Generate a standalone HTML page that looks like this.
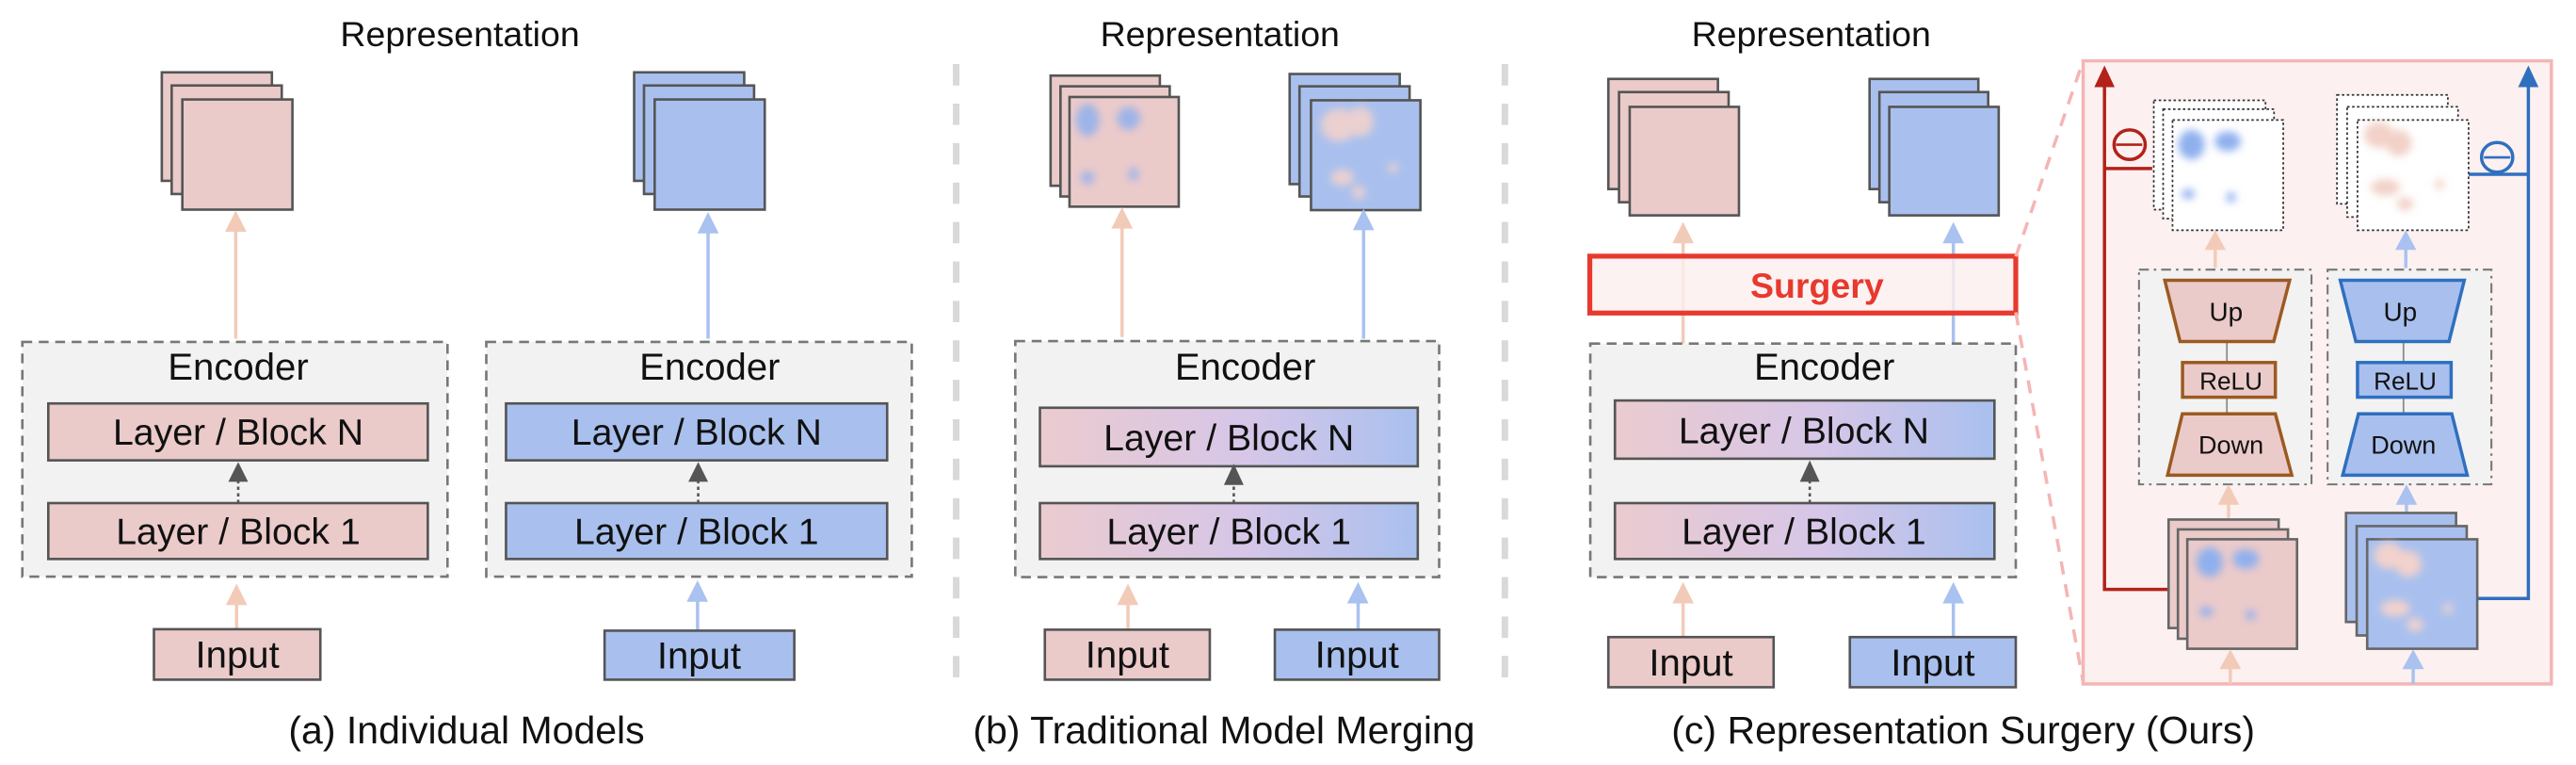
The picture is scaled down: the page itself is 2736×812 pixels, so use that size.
<!DOCTYPE html>
<html><head><meta charset="utf-8"><style>
html,body{margin:0;padding:0;background:#fff;}
svg{display:block;}
text{font-family:"Liberation Sans",Arial,sans-serif;fill:#111;}
</style></head><body>
<svg width="2736" height="812" viewBox="0 0 1568 465.3" preserveAspectRatio="none" xmlns="http://www.w3.org/2000/svg">
<defs>
<linearGradient id="mg" x1="0" x2="1" y1="0" y2="0">
<stop offset="0" stop-color="#ebcbcf"/><stop offset="0.55" stop-color="#d6c6e8"/><stop offset="1" stop-color="#a9c0ee"/></linearGradient>
<filter id="bl" x="-50%" y="-50%" width="200%" height="200%"><feGaussianBlur stdDeviation="2.5"/></filter>
</defs>

<line x1="582" y1="39" x2="582" y2="419" stroke="#d9d9d9" stroke-width="4" stroke-dasharray="13 11"/>
<line x1="916" y1="39" x2="916" y2="419" stroke="#d9d9d9" stroke-width="4" stroke-dasharray="13 11"/>

<!-- ========== Panel A ========== -->
<text x="280" y="28" font-size="21.5" text-anchor="middle">Representation</text>
<g stroke="#555" stroke-width="1.5" fill="#ebcaca">
<rect x="98.5" y="44" width="67" height="66"/><rect x="104.5" y="52" width="67" height="66"/><rect x="111" y="60.5" width="67" height="67"/>
</g>
<g stroke="#555" stroke-width="1.5" fill="#a9c0ee">
<rect x="386" y="44" width="67" height="66"/><rect x="392" y="52" width="67" height="66"/><rect x="398.5" y="60.5" width="67" height="67"/>
</g>
<line x1="143.5" y1="206" x2="143.5" y2="138" stroke="#f2cbb8" stroke-width="2"/>
<polygon points="143.5,128 137,141 150,141" fill="#f2cbb8"/>
<line x1="431" y1="206" x2="431" y2="139" stroke="#a9c2ef" stroke-width="2"/>
<polygon points="431,129 424.5,142 437.5,142" fill="#a9c2ef"/>

<rect x="13.6" y="208" width="258.8" height="142.7" fill="#f2f2f2" stroke="#777" stroke-width="1.5" stroke-dasharray="6 4"/>
<text x="145" y="231" font-size="23" text-anchor="middle">Encoder</text>
<rect x="29.4" y="245.4" width="231" height="34.6" fill="#ebcaca" stroke="#555" stroke-width="1.5"/>
<text x="145" y="270.5" font-size="22.5" text-anchor="middle">Layer / Block N</text>
<rect x="29.4" y="306" width="231" height="34" fill="#ebcaca" stroke="#555" stroke-width="1.5"/>
<text x="145" y="331" font-size="22.5" text-anchor="middle">Layer / Block 1</text>
<line x1="145" y1="306" x2="145" y2="292" stroke="#555" stroke-width="1.5" stroke-dasharray="2 2"/>
<polygon points="145,281 139,293 151,293" fill="#555"/>

<rect x="296" y="208" width="259" height="142.7" fill="#f2f2f2" stroke="#777" stroke-width="1.5" stroke-dasharray="6 4"/>
<text x="432" y="231" font-size="23" text-anchor="middle">Encoder</text>
<rect x="308" y="245.4" width="232" height="34.6" fill="#a9c0ee" stroke="#555" stroke-width="1.5"/>
<text x="424" y="270.5" font-size="22.5" text-anchor="middle">Layer / Block N</text>
<rect x="308" y="306" width="232" height="34" fill="#a9c0ee" stroke="#555" stroke-width="1.5"/>
<text x="424" y="331" font-size="22.5" text-anchor="middle">Layer / Block 1</text>
<line x1="425" y1="306" x2="425" y2="292" stroke="#555" stroke-width="1.5" stroke-dasharray="2 2"/>
<polygon points="425,281 419,293 431,293" fill="#555"/>

<line x1="144" y1="383" x2="144" y2="365" stroke="#f2cbb8" stroke-width="2"/>
<polygon points="144,355 137.5,368 150.5,368" fill="#f2cbb8"/>
<line x1="424.6" y1="383" x2="424.6" y2="365" stroke="#a9c2ef" stroke-width="2"/>
<polygon points="424.6,353 418,366 431,366" fill="#a9c2ef"/>
<rect x="93.7" y="382.7" width="101.3" height="30.7" fill="#ebcaca" stroke="#555" stroke-width="1.5"/>
<text x="144.5" y="406" font-size="23" text-anchor="middle">Input</text>
<rect x="368" y="383.6" width="115.5" height="29.8" fill="#a9c0ee" stroke="#555" stroke-width="1.5"/>
<text x="425.5" y="406.5" font-size="23" text-anchor="middle">Input</text>
<text x="284" y="452" font-size="23.5" text-anchor="middle">(a) Individual Models</text>

<!-- ========== Panel B ========== -->
<text x="742.6" y="28" font-size="21.5" text-anchor="middle">Representation</text>
<g stroke="#555" stroke-width="1.5" fill="#ebcaca">
<rect x="639.5" y="46" width="66.5" height="67"/><rect x="645.5" y="52.5" width="66.5" height="67"/><rect x="651" y="59" width="66.5" height="66.7"/>
</g>
<g filter="url(#bl)" fill="#8fb0ee" opacity="0.85">
<ellipse cx="662" cy="73" rx="7" ry="10"/><ellipse cx="687" cy="72" rx="7" ry="7"/><ellipse cx="662" cy="108" rx="4" ry="4"/><ellipse cx="690" cy="106" rx="3" ry="4"/>
</g>
<g stroke="#555" stroke-width="1.5" fill="#a9c0ee">
<rect x="785" y="45" width="67" height="67"/><rect x="791" y="52.5" width="67" height="67"/><rect x="798" y="61" width="66.6" height="66.8"/>
</g>
<g filter="url(#bl)" fill="#f2d2cc" opacity="0.9">
<ellipse cx="815" cy="76" rx="11" ry="10"/><ellipse cx="828" cy="74" rx="8" ry="9"/><ellipse cx="817" cy="108" rx="7" ry="5"/><ellipse cx="827" cy="117" rx="4" ry="4"/><ellipse cx="848" cy="102" rx="3" ry="3"/>
</g>
<line x1="683" y1="205" x2="683" y2="136" stroke="#f2cbb8" stroke-width="2"/>
<polygon points="683,126 676.5,139 689.5,139" fill="#f2cbb8"/>
<line x1="830" y1="206" x2="830" y2="137" stroke="#a9c2ef" stroke-width="2"/>
<polygon points="830,127 823.5,140 836.5,140" fill="#a9c2ef"/>

<rect x="618" y="207.5" width="258" height="143.5" fill="#f2f2f2" stroke="#777" stroke-width="1.5" stroke-dasharray="6 4"/>
<text x="758" y="231" font-size="23" text-anchor="middle">Encoder</text>
<rect x="633" y="248" width="230" height="35.6" fill="url(#mg)" stroke="#555" stroke-width="1.5"/>
<text x="748" y="274" font-size="22.5" text-anchor="middle">Layer / Block N</text>
<rect x="633" y="306" width="230" height="34" fill="url(#mg)" stroke="#555" stroke-width="1.5"/>
<text x="748" y="331" font-size="22.5" text-anchor="middle">Layer / Block 1</text>
<line x1="751" y1="306" x2="751" y2="294" stroke="#555" stroke-width="1.5" stroke-dasharray="2 2"/>
<polygon points="751,282 745,295 757,295" fill="#555"/>

<line x1="686.6" y1="383" x2="686.6" y2="365" stroke="#f2cbb8" stroke-width="2"/>
<polygon points="686.6,355 680,368 693,368" fill="#f2cbb8"/>
<line x1="826.7" y1="383" x2="826.7" y2="365" stroke="#a9c2ef" stroke-width="2"/>
<polygon points="826.7,354 820,367 833,367" fill="#a9c2ef"/>
<rect x="636" y="383" width="100.4" height="30.4" fill="#ebcaca" stroke="#555" stroke-width="1.5"/>
<text x="686.2" y="406" font-size="23" text-anchor="middle">Input</text>
<rect x="776" y="383" width="100" height="30.4" fill="#a9c0ee" stroke="#555" stroke-width="1.5"/>
<text x="826" y="406" font-size="23" text-anchor="middle">Input</text>
<text x="745" y="452" font-size="23.5" text-anchor="middle">(b) Traditional Model Merging</text>

<!-- ========== Panel C ========== -->
<text x="1102.5" y="28" font-size="21.5" text-anchor="middle">Representation</text>
<g stroke="#555" stroke-width="1.5" fill="#ebcaca">
<rect x="979" y="48" width="66.7" height="67"/><rect x="985.5" y="56" width="66.7" height="67"/><rect x="992" y="65" width="66.5" height="66"/>
</g>
<g stroke="#555" stroke-width="1.5" fill="#a9c0ee">
<rect x="1138" y="48" width="66.2" height="67"/><rect x="1144" y="56" width="66.2" height="67"/><rect x="1150" y="65" width="66.6" height="66"/>
</g>
<line x1="1024.5" y1="209" x2="1024.5" y2="146" stroke="#f2cbb8" stroke-width="2"/>
<polygon points="1024.5,135 1018,148 1031,148" fill="#f2cbb8"/>
<line x1="1189" y1="209" x2="1189" y2="146" stroke="#a9c2ef" stroke-width="2"/>
<polygon points="1189,135 1182.5,148 1195.5,148" fill="#a9c2ef"/>
<rect x="967.7" y="155.8" width="259.3" height="34.6" fill="#fcefef" fill-opacity="0.8" stroke="#e8392e" stroke-width="3"/>
<text x="1106" y="181" font-size="21.5" font-weight="bold" text-anchor="middle" style="fill:#e8392e">Surgery</text>

<line x1="1227" y1="156" x2="1268" y2="37" stroke="#f4b5b5" stroke-width="2" stroke-dasharray="8 6"/>
<line x1="1227" y1="190" x2="1268" y2="415" stroke="#f4b5b5" stroke-width="2" stroke-dasharray="8 6"/>

<rect x="968" y="209" width="259" height="142" fill="#f2f2f2" stroke="#777" stroke-width="1.5" stroke-dasharray="6 4"/>
<text x="1110.5" y="231" font-size="23" text-anchor="middle">Encoder</text>
<rect x="983" y="243.6" width="231" height="35.4" fill="url(#mg)" stroke="#555" stroke-width="1.5"/>
<text x="1098" y="269.5" font-size="22.5" text-anchor="middle">Layer / Block N</text>
<rect x="983" y="306" width="231" height="34" fill="url(#mg)" stroke="#555" stroke-width="1.5"/>
<text x="1098" y="331" font-size="22.5" text-anchor="middle">Layer / Block 1</text>
<line x1="1101.6" y1="306" x2="1101.6" y2="292" stroke="#555" stroke-width="1.5" stroke-dasharray="2 2"/>
<polygon points="1101.6,280 1095.6,293 1107.6,293" fill="#555"/>

<line x1="1024.5" y1="387" x2="1024.5" y2="366" stroke="#f2cbb8" stroke-width="2"/>
<polygon points="1024.5,354 1018,367 1031,367" fill="#f2cbb8"/>
<line x1="1189" y1="387" x2="1189" y2="366" stroke="#a9c2ef" stroke-width="2"/>
<polygon points="1189,354 1182.5,367 1195.5,367" fill="#a9c2ef"/>
<rect x="979" y="387.5" width="100.6" height="30.5" fill="#ebcaca" stroke="#555" stroke-width="1.5"/>
<text x="1029.3" y="411" font-size="23" text-anchor="middle">Input</text>
<rect x="1126" y="387.5" width="101" height="30.5" fill="#a9c0ee" stroke="#555" stroke-width="1.5"/>
<text x="1176.5" y="411" font-size="23" text-anchor="middle">Input</text>
<text x="1195" y="452" font-size="23.5" text-anchor="middle">(c) Representation Surgery (Ours)</text>

<rect x="1268" y="37" width="285" height="379" fill="#fcf0f0" stroke="#f4b5b5" stroke-width="2"/>

<polyline points="1319.8,358.5 1281,358.5 1281,52" fill="none" stroke="#b22218" stroke-width="2"/>
<polygon points="1281,39.8 1274.8,53 1287.2,53" fill="#b22218"/>
<line x1="1281" y1="102.5" x2="1310" y2="102.5" stroke="#b22218" stroke-width="2"/>
<ellipse cx="1296.3" cy="88" rx="9.5" ry="9" fill="none" stroke="#b22218" stroke-width="2"/>
<line x1="1288" y1="88" x2="1304" y2="88" stroke="#b22218" stroke-width="1.5"/>

<polyline points="1507.7,364 1539,364 1539,52" fill="none" stroke="#2f6fbf" stroke-width="2"/>
<polygon points="1539,39.8 1532.8,53 1545.2,53" fill="#2f6fbf"/>
<line x1="1539" y1="106" x2="1502.6" y2="106" stroke="#2f6fbf" stroke-width="2"/>
<ellipse cx="1520" cy="95.7" rx="9.5" ry="9" fill="none" stroke="#2f6fbf" stroke-width="2"/>
<line x1="1512" y1="95.7" x2="1528" y2="95.7" stroke="#2f6fbf" stroke-width="1.5"/>

<g fill="#fff" stroke="#333" stroke-width="1" stroke-dasharray="1.5 1.5">
<rect x="1311" y="61" width="68" height="66.5"/><rect x="1316.7" y="66.4" width="67.5" height="66.6"/><rect x="1322.4" y="73" width="67.4" height="67"/>
<rect x="1422.5" y="57.7" width="67.5" height="66.3"/><rect x="1428.7" y="65" width="67.5" height="67"/><rect x="1435" y="73" width="67.6" height="67"/>
</g>
<g filter="url(#bl)" fill="#8fb0ee">
<ellipse cx="1334" cy="88" rx="8" ry="9"/><ellipse cx="1356" cy="86" rx="8" ry="6"/><ellipse cx="1332" cy="118" rx="4" ry="3"/><ellipse cx="1358" cy="120" rx="3" ry="3"/>
</g>
<g filter="url(#bl)" fill="#f2d2c8">
<ellipse cx="1448" cy="82" rx="9" ry="8"/><ellipse cx="1460" cy="87" rx="8" ry="8"/><ellipse cx="1452" cy="114" rx="9" ry="5"/><ellipse cx="1464" cy="124" rx="5" ry="4"/><ellipse cx="1485" cy="112" rx="3" ry="3"/>
</g>

<line x1="1348.4" y1="163" x2="1348.4" y2="150" stroke="#f2cbb8" stroke-width="2"/>
<polygon points="1348.4,140 1342,152 1354.8,152" fill="#f2cbb8"/>
<line x1="1464.4" y1="163" x2="1464.4" y2="150" stroke="#a9c2ef" stroke-width="2"/>
<polygon points="1464.4,140 1458,152 1470.8,152" fill="#a9c2ef"/>

<rect x="1302" y="164" width="105" height="130.6" fill="#f2f2f2" stroke="#777" stroke-width="1.2" stroke-dasharray="6 3 1.5 3"/>
<rect x="1416.8" y="164" width="99.7" height="130.6" fill="#f2f2f2" stroke="#777" stroke-width="1.2" stroke-dasharray="6 3 1.5 3"/>

<line x1="1355.5" y1="207" x2="1355.5" y2="252" stroke="#888" stroke-width="1"/>
<polygon points="1317.7,170.5 1393.7,170.5 1384,207.7 1327,207.7" fill="#ebcaca" stroke="#9c5a20" stroke-width="2"/>
<text x="1355" y="195" font-size="16" text-anchor="middle">Up</text>
<rect x="1328.5" y="220.5" width="56.5" height="21.1" fill="#ebcaca" stroke="#9c5a20" stroke-width="2"/>
<text x="1358" y="237" font-size="15" text-anchor="middle">ReLU</text>
<polygon points="1328.4,251.7 1385,251.7 1395,289 1319.4,289" fill="#ebcaca" stroke="#9c5a20" stroke-width="2"/>
<text x="1358" y="276" font-size="15.5" text-anchor="middle">Down</text>

<line x1="1463" y1="207" x2="1463" y2="252" stroke="#888" stroke-width="1"/>
<polygon points="1424.5,170.5 1500,170.5 1490.7,207.7 1434,207.7" fill="#a9c0ee" stroke="#2f6fbf" stroke-width="2"/>
<text x="1461" y="195" font-size="16" text-anchor="middle">Up</text>
<rect x="1435" y="220.5" width="57" height="21.1" fill="#a9c0ee" stroke="#2f6fbf" stroke-width="2"/>
<text x="1464" y="237" font-size="15" text-anchor="middle">ReLU</text>
<polygon points="1435.6,251.7 1492.4,251.7 1501.8,289 1426,289" fill="#a9c0ee" stroke="#2f6fbf" stroke-width="2"/>
<text x="1463" y="276" font-size="15.5" text-anchor="middle">Down</text>

<line x1="1356.5" y1="315" x2="1356.5" y2="305" stroke="#f2cbb8" stroke-width="2"/>
<polygon points="1356.5,294.6 1350,307 1363,307" fill="#f2cbb8"/>
<line x1="1464.8" y1="312" x2="1464.8" y2="305" stroke="#a9c2ef" stroke-width="2"/>
<polygon points="1464.8,294.6 1458.3,307 1471.3,307" fill="#a9c2ef"/>

<g stroke="#666" stroke-width="1.5" fill="#ebcaca">
<rect x="1320" y="316" width="67" height="66"/><rect x="1325.7" y="322" width="67" height="66.5"/><rect x="1331.4" y="328" width="66.8" height="66.6"/>
</g>
<g filter="url(#bl)" fill="#8fb0ee">
<ellipse cx="1345" cy="342" rx="8" ry="9"/><ellipse cx="1367" cy="340" rx="8" ry="6"/><ellipse cx="1343" cy="372" rx="4" ry="3"/><ellipse cx="1370" cy="374" rx="3" ry="3"/>
</g>
<g stroke="#666" stroke-width="1.5" fill="#a9c0ee">
<rect x="1428" y="312" width="67" height="66.3"/><rect x="1434.5" y="320" width="67" height="66.5"/><rect x="1440.9" y="328" width="67" height="66.6"/>
</g>
<g filter="url(#bl)" fill="#f2d2cc">
<ellipse cx="1454" cy="338" rx="9" ry="8"/><ellipse cx="1466" cy="343" rx="8" ry="8"/><ellipse cx="1458" cy="370" rx="9" ry="5"/><ellipse cx="1470" cy="380" rx="5" ry="4"/><ellipse cx="1490" cy="370" rx="3" ry="3"/>
</g>

<line x1="1357.6" y1="416" x2="1357.6" y2="405" stroke="#f2cbb8" stroke-width="2"/>
<polygon points="1357.6,395 1351,407 1364.2,407" fill="#f2cbb8"/>
<line x1="1468.9" y1="416" x2="1468.9" y2="405" stroke="#a9c2ef" stroke-width="2"/>
<polygon points="1468.9,395 1462.3,407 1475.5,407" fill="#a9c2ef"/>
</svg>
</body></html>
